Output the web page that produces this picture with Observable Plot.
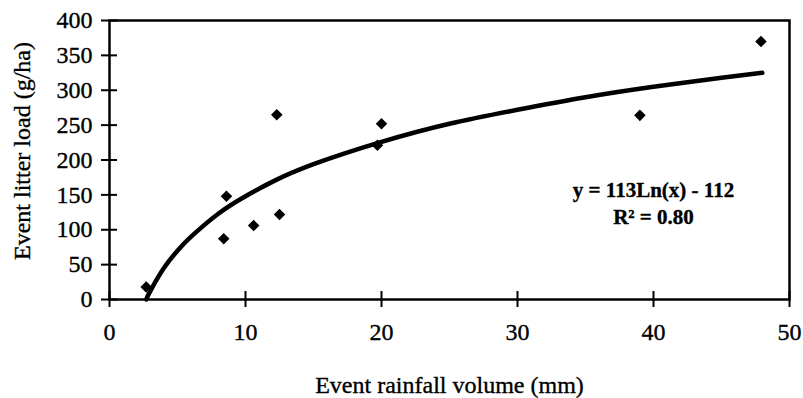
<!DOCTYPE html>
<html>
<head>
<meta charset="utf-8">
<script src="https://cdn.jsdelivr.net/npm/d3@7"></script>
<script src="https://cdn.jsdelivr.net/npm/@observablehq/plot@0.6"></script>
<style>
  html, body { margin: 0; padding: 0; background: #fff; }
  svg { display: block; }
  svg text { stroke: #000; stroke-width: 0.35px; }
</style>
</head>
<body>
<div id="chart"></div>
<script>
// Observed events: rainfall volume (mm) and litter load (g/ha)
const rainfall = [2.7, 8.4, 8.6, 10.6, 12.3, 12.5, 19.7, 20.0, 39.0, 47.9];
const litter   = [18, 87, 148, 106, 265, 122, 221, 252, 264, 370];

// Logarithmic trend line as drawn
const trendX = [2.7, 3, 4, 5, 6, 8, 10, 12, 15, 20, 25, 30, 35, 40, 45, 48];
const trendY = [0, 12, 45, 70, 90, 123, 148, 169, 194, 226, 252, 272, 290, 305, 318, 325];

// Equation label
const eqText = ["y = 113Ln(x) - 112\nR\u00b2 = 0.80"];
const eqX = [40];
const eqY = [140];

const xTicks = [0, 10, 20, 30, 40, 50];
const yTicks = [0, 50, 100, 150, 200, 250, 300, 350, 400];
const yLabel = ["Event litter load (g/ha)"];
const xLabel = "Event rainfall volume (mm)";

const points = rainfall.map((x, i) => ({x, y: litter[i]}));
const trend = trendX.map((x, i) => ({x, y: trendY[i]}));
const eq = eqText.map((t, i) => ({t, x: eqX[i], y: eqY[i]}));

const chart = Plot.plot({
  width: 803,
  height: 398,
  marginLeft: 109,
  marginRight: 14,
  marginTop: 20,
  marginBottom: 99,
  style: {fontFamily: "'Liberation Serif', 'Times New Roman', serif", fontSize: "24px", color: "#000", background: "#fff"},
  x: {domain: [0, 50]},
  y: {domain: [0, 400]},
  marks: [
    Plot.frame({stroke: "#000", strokeWidth: 2.5}),
    Plot.axisY({ticks: yTicks, tickSize: 8, tickPadding: 9, strokeWidth: 2, label: null, fontSize: 24}),
    Plot.axisY({ticks: yTicks, tickSize: 8, text: null, dx: 8, strokeWidth: 2, label: null}),
    Plot.text(yLabel, {frameAnchor: "left", rotate: -90, dx: -87, dy: -9, fontSize: 24, textAnchor: "middle", fill: "#000"}),
    Plot.axisX({ticks: xTicks, tickSize: 8, tickPadding: 15, strokeWidth: 2,
      label: xLabel, labelAnchor: "center", labelArrow: "none", labelOffset: 93,
      fontSize: 24}),
    Plot.axisX({ticks: xTicks, tickSize: 8, text: null, dy: -8, strokeWidth: 2, label: null}),
    Plot.line(trend, {x: "x", y: "y", stroke: "#000", strokeWidth: 4.5, curve: "natural"}),
    Plot.dot(points, {x: "x", y: "y", symbol: "diamond2", r: 5.2, fill: "#000", stroke: "none"}),
    Plot.text(eq, {x: "x", y: "y", text: "t", fontWeight: "bold", fontSize: 21, lineHeight: 1.3, textAnchor: "middle", fill: "#000"})
  ]
});
document.getElementById("chart").appendChild(chart);
</script>
</body>
</html>
